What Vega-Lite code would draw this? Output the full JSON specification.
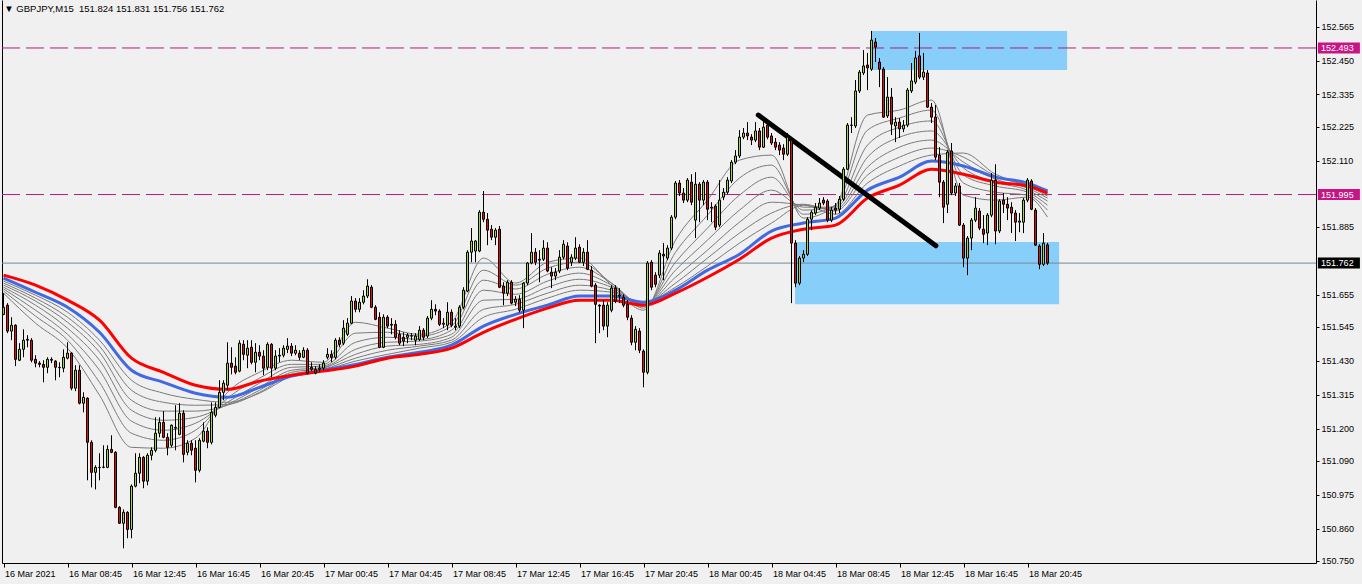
{
"$schema":"https://vega.github.io/schema/vega-lite/v6.json",
"width":1314,"height":563,
"autosize":{"type":"none"},
"padding":{"left":2,"top":0,"right":46,"bottom":21},
"background":"#f0f0f0",
"config":{"view":{"stroke":null},"font":"Liberation Sans","scale":{"continuousPadding":0}},
"resolve":{"axis":{"y":"independent"}},
"datasets":{
"candles":[
{"t":"2021-03-16T04:45","o":151.588,"h":151.660,"l":151.585,"c":151.612},
{"t":"2021-03-16T05:00","o":151.619,"h":151.626,"l":151.524,"c":151.531},
{"t":"2021-03-16T05:15","o":151.531,"h":151.578,"l":151.500,"c":151.551},
{"t":"2021-03-16T05:30","o":151.551,"h":151.554,"l":151.412,"c":151.435},
{"t":"2021-03-16T05:45","o":151.432,"h":151.490,"l":151.429,"c":151.469},
{"t":"2021-03-16T06:00","o":151.469,"h":151.537,"l":151.442,"c":151.500},
{"t":"2021-03-16T06:15","o":151.503,"h":151.517,"l":151.476,"c":151.500},
{"t":"2021-03-16T06:30","o":151.500,"h":151.507,"l":151.425,"c":151.432},
{"t":"2021-03-16T06:45","o":151.435,"h":151.449,"l":151.408,"c":151.422},
{"t":"2021-03-16T07:00","o":151.422,"h":151.429,"l":151.408,"c":151.418},
{"t":"2021-03-16T07:15","o":151.418,"h":151.432,"l":151.357,"c":151.408},
{"t":"2021-03-16T07:30","o":151.408,"h":151.442,"l":151.388,"c":151.435},
{"t":"2021-03-16T07:45","o":151.435,"h":151.442,"l":151.422,"c":151.432},
{"t":"2021-03-16T08:00","o":151.429,"h":151.432,"l":151.364,"c":151.408},
{"t":"2021-03-16T08:15","o":151.408,"h":151.425,"l":151.374,"c":151.407},
{"t":"2021-03-16T08:30","o":151.405,"h":151.469,"l":151.391,"c":151.442},
{"t":"2021-03-16T08:45","o":151.439,"h":151.493,"l":151.435,"c":151.456},
{"t":"2021-03-16T09:00","o":151.456,"h":151.459,"l":151.330,"c":151.337},
{"t":"2021-03-16T09:15","o":151.337,"h":151.415,"l":151.327,"c":151.398},
{"t":"2021-03-16T09:30","o":151.398,"h":151.415,"l":151.282,"c":151.286},
{"t":"2021-03-16T09:45","o":151.286,"h":151.323,"l":151.255,"c":151.306},
{"t":"2021-03-16T10:00","o":151.303,"h":151.306,"l":151.024,"c":151.153},
{"t":"2021-03-16T10:15","o":151.153,"h":151.160,"l":151.000,"c":151.051},
{"t":"2021-03-16T10:30","o":151.051,"h":151.075,"l":150.993,"c":151.068},
{"t":"2021-03-16T10:45","o":151.068,"h":151.116,"l":151.024,"c":151.067},
{"t":"2021-03-16T11:00","o":151.068,"h":151.143,"l":151.065,"c":151.069},
{"t":"2021-03-16T11:15","o":151.068,"h":151.143,"l":151.065,"c":151.129},
{"t":"2021-03-16T11:30","o":151.129,"h":151.177,"l":151.116,"c":151.119},
{"t":"2021-03-16T11:45","o":151.119,"h":151.123,"l":150.929,"c":150.932},
{"t":"2021-03-16T12:00","o":150.932,"h":150.936,"l":150.876,"c":150.878},
{"t":"2021-03-16T12:15","o":150.878,"h":150.925,"l":150.793,"c":150.915},
{"t":"2021-03-16T12:30","o":150.915,"h":150.919,"l":150.827,"c":150.857},
{"t":"2021-03-16T12:45","o":150.857,"h":151.010,"l":150.827,"c":151.004},
{"t":"2021-03-16T13:00","o":151.004,"h":151.116,"l":151.000,"c":151.048},
{"t":"2021-03-16T13:15","o":151.048,"h":151.116,"l":151.014,"c":151.102},
{"t":"2021-03-16T13:30","o":151.102,"h":151.106,"l":150.997,"c":151.021},
{"t":"2021-03-16T13:45","o":151.021,"h":151.116,"l":151.007,"c":151.109},
{"t":"2021-03-16T14:00","o":151.109,"h":151.136,"l":151.092,"c":151.126},
{"t":"2021-03-16T14:15","o":151.126,"h":151.238,"l":151.119,"c":151.184},
{"t":"2021-03-16T14:30","o":151.184,"h":151.238,"l":151.170,"c":151.221},
{"t":"2021-03-16T14:45","o":151.221,"h":151.259,"l":151.167,"c":151.170},
{"t":"2021-03-16T15:00","o":151.170,"h":151.184,"l":151.109,"c":151.136},
{"t":"2021-03-16T15:15","o":151.143,"h":151.214,"l":151.136,"c":151.211},
{"t":"2021-03-16T15:30","o":151.201,"h":151.279,"l":151.126,"c":151.204},
{"t":"2021-03-16T15:45","o":151.180,"h":151.286,"l":151.177,"c":151.252},
{"t":"2021-03-16T16:00","o":151.252,"h":151.262,"l":151.085,"c":151.112},
{"t":"2021-03-16T16:15","o":151.119,"h":151.160,"l":151.109,"c":151.150},
{"t":"2021-03-16T16:30","o":151.150,"h":151.160,"l":151.109,"c":151.126},
{"t":"2021-03-16T16:45","o":151.133,"h":151.160,"l":151.017,"c":151.058},
{"t":"2021-03-16T17:00","o":151.058,"h":151.167,"l":151.051,"c":151.160},
{"t":"2021-03-16T17:15","o":151.157,"h":151.221,"l":151.153,"c":151.191},
{"t":"2021-03-16T17:30","o":151.191,"h":151.204,"l":151.133,"c":151.153},
{"t":"2021-03-16T17:45","o":151.153,"h":151.289,"l":151.146,"c":151.255},
{"t":"2021-03-16T18:00","o":151.245,"h":151.289,"l":151.238,"c":151.272},
{"t":"2021-03-16T18:15","o":151.272,"h":151.364,"l":151.269,"c":151.323},
{"t":"2021-03-16T18:30","o":151.323,"h":151.364,"l":151.296,"c":151.354},
{"t":"2021-03-16T18:45","o":151.347,"h":151.493,"l":151.330,"c":151.422},
{"t":"2021-03-16T19:00","o":151.422,"h":151.476,"l":151.384,"c":151.408},
{"t":"2021-03-16T19:15","o":151.412,"h":151.442,"l":151.384,"c":151.391},
{"t":"2021-03-16T19:30","o":151.395,"h":151.500,"l":151.391,"c":151.490},
{"t":"2021-03-16T19:45","o":151.486,"h":151.500,"l":151.432,"c":151.452},
{"t":"2021-03-16T20:00","o":151.449,"h":151.500,"l":151.405,"c":151.473},
{"t":"2021-03-16T20:15","o":151.476,"h":151.500,"l":151.418,"c":151.425},
{"t":"2021-03-16T20:30","o":151.425,"h":151.490,"l":151.391,"c":151.459},
{"t":"2021-03-16T20:45","o":151.459,"h":151.483,"l":151.432,"c":151.446},
{"t":"2021-03-16T21:00","o":151.446,"h":151.466,"l":151.381,"c":151.405},
{"t":"2021-03-16T21:15","o":151.408,"h":151.493,"l":151.398,"c":151.486},
{"t":"2021-03-16T21:30","o":151.486,"h":151.490,"l":151.374,"c":151.405},
{"t":"2021-03-16T21:45","o":151.405,"h":151.466,"l":151.398,"c":151.446},
{"t":"2021-03-16T22:00","o":151.446,"h":151.473,"l":151.425,"c":151.449},
{"t":"2021-03-16T22:15","o":151.449,"h":151.483,"l":151.442,"c":151.473},
{"t":"2021-03-16T22:30","o":151.469,"h":151.507,"l":151.456,"c":151.480},
{"t":"2021-03-16T22:45","o":151.480,"h":151.490,"l":151.446,"c":151.456},
{"t":"2021-03-16T23:00","o":151.456,"h":151.483,"l":151.449,"c":151.466},
{"t":"2021-03-16T23:15","o":151.456,"h":151.466,"l":151.432,"c":151.442},
{"t":"2021-03-16T23:30","o":151.442,"h":151.476,"l":151.439,"c":151.466},
{"t":"2021-03-16T23:45","o":151.466,"h":151.473,"l":151.384,"c":151.388},
{"t":"2021-03-17T00:00","o":151.408,"h":151.425,"l":151.395,"c":151.401},
{"t":"2021-03-17T00:15","o":151.401,"h":151.412,"l":151.384,"c":151.388},
{"t":"2021-03-17T00:30","o":151.401,"h":151.418,"l":151.391,"c":151.405},
{"t":"2021-03-17T00:45","o":151.405,"h":151.432,"l":151.398,"c":151.422},
{"t":"2021-03-17T01:00","o":151.442,"h":151.473,"l":151.435,"c":151.452},
{"t":"2021-03-17T01:15","o":151.452,"h":151.466,"l":151.425,"c":151.442},
{"t":"2021-03-17T01:30","o":151.442,"h":151.507,"l":151.435,"c":151.500},
{"t":"2021-03-17T01:45","o":151.500,"h":151.510,"l":151.476,"c":151.486},
{"t":"2021-03-17T02:00","o":151.490,"h":151.568,"l":151.483,"c":151.541},
{"t":"2021-03-17T02:15","o":151.520,"h":151.575,"l":151.514,"c":151.558},
{"t":"2021-03-17T02:30","o":151.558,"h":151.650,"l":151.554,"c":151.633},
{"t":"2021-03-17T02:45","o":151.633,"h":151.643,"l":151.595,"c":151.605},
{"t":"2021-03-17T03:00","o":151.605,"h":151.643,"l":151.595,"c":151.629},
{"t":"2021-03-17T03:15","o":151.629,"h":151.670,"l":151.622,"c":151.650},
{"t":"2021-03-17T03:30","o":151.650,"h":151.707,"l":151.643,"c":151.684},
{"t":"2021-03-17T03:45","o":151.680,"h":151.687,"l":151.609,"c":151.612},
{"t":"2021-03-17T04:00","o":151.612,"h":151.619,"l":151.568,"c":151.571},
{"t":"2021-03-17T04:15","o":151.578,"h":151.595,"l":151.473,"c":151.476},
{"t":"2021-03-17T04:30","o":151.476,"h":151.588,"l":151.473,"c":151.578},
{"t":"2021-03-17T04:45","o":151.578,"h":151.585,"l":151.541,"c":151.548},
{"t":"2021-03-17T05:00","o":151.551,"h":151.575,"l":151.520,"c":151.554},
{"t":"2021-03-17T05:15","o":151.554,"h":151.568,"l":151.503,"c":151.510},
{"t":"2021-03-17T05:30","o":151.520,"h":151.534,"l":151.483,"c":151.490},
{"t":"2021-03-17T05:45","o":151.510,"h":151.527,"l":151.480,"c":151.497},
{"t":"2021-03-17T06:00","o":151.510,"h":151.524,"l":151.490,"c":151.517},
{"t":"2021-03-17T06:15","o":151.514,"h":151.524,"l":151.500,"c":151.515},
{"t":"2021-03-17T06:30","o":151.500,"h":151.524,"l":151.483,"c":151.514},
{"t":"2021-03-17T06:45","o":151.503,"h":151.548,"l":151.497,"c":151.534},
{"t":"2021-03-17T07:00","o":151.534,"h":151.541,"l":151.500,"c":151.510},
{"t":"2021-03-17T07:15","o":151.514,"h":151.582,"l":151.507,"c":151.575},
{"t":"2021-03-17T07:30","o":151.575,"h":151.636,"l":151.568,"c":151.605},
{"t":"2021-03-17T07:45","o":151.605,"h":151.622,"l":151.585,"c":151.599},
{"t":"2021-03-17T08:00","o":151.599,"h":151.605,"l":151.548,"c":151.554},
{"t":"2021-03-17T08:15","o":151.554,"h":151.575,"l":151.541,"c":151.558},
{"t":"2021-03-17T08:30","o":151.551,"h":151.629,"l":151.534,"c":151.595},
{"t":"2021-03-17T08:45","o":151.595,"h":151.605,"l":151.544,"c":151.551},
{"t":"2021-03-17T09:00","o":151.544,"h":151.575,"l":151.534,"c":151.548},
{"t":"2021-03-17T09:15","o":151.548,"h":151.619,"l":151.541,"c":151.612},
{"t":"2021-03-17T09:30","o":151.612,"h":151.680,"l":151.605,"c":151.670},
{"t":"2021-03-17T09:45","o":151.667,"h":151.806,"l":151.663,"c":151.799},
{"t":"2021-03-17T10:00","o":151.799,"h":151.881,"l":151.765,"c":151.837},
{"t":"2021-03-17T10:15","o":151.803,"h":151.840,"l":151.765,"c":151.837},
{"t":"2021-03-17T10:30","o":151.803,"h":151.942,"l":151.799,"c":151.935},
{"t":"2021-03-17T10:45","o":151.935,"h":152.007,"l":151.901,"c":151.911},
{"t":"2021-03-17T11:00","o":151.911,"h":151.932,"l":151.823,"c":151.874},
{"t":"2021-03-17T11:15","o":151.877,"h":151.891,"l":151.840,"c":151.850},
{"t":"2021-03-17T11:30","o":151.850,"h":151.881,"l":151.823,"c":151.874},
{"t":"2021-03-17T11:45","o":151.877,"h":151.888,"l":151.677,"c":151.680},
{"t":"2021-03-17T12:00","o":151.684,"h":151.697,"l":151.619,"c":151.660},
{"t":"2021-03-17T12:15","o":151.660,"h":151.704,"l":151.650,"c":151.697},
{"t":"2021-03-17T12:30","o":151.697,"h":151.704,"l":151.622,"c":151.626},
{"t":"2021-03-17T12:45","o":151.629,"h":151.650,"l":151.616,"c":151.639},
{"t":"2021-03-17T13:00","o":151.639,"h":151.653,"l":151.595,"c":151.602},
{"t":"2021-03-17T13:15","o":151.602,"h":151.697,"l":151.541,"c":151.694},
{"t":"2021-03-17T13:30","o":151.694,"h":151.765,"l":151.687,"c":151.762},
{"t":"2021-03-17T13:45","o":151.762,"h":151.864,"l":151.758,"c":151.799},
{"t":"2021-03-17T14:00","o":151.799,"h":151.813,"l":151.755,"c":151.765},
{"t":"2021-03-17T14:15","o":151.772,"h":151.806,"l":151.697,"c":151.775},
{"t":"2021-03-17T14:30","o":151.775,"h":151.840,"l":151.769,"c":151.813},
{"t":"2021-03-17T14:45","o":151.813,"h":151.833,"l":151.731,"c":151.735},
{"t":"2021-03-17T15:00","o":151.731,"h":151.748,"l":151.677,"c":151.718},
{"t":"2021-03-17T15:15","o":151.718,"h":151.745,"l":151.704,"c":151.731},
{"t":"2021-03-17T15:30","o":151.735,"h":151.806,"l":151.728,"c":151.782},
{"t":"2021-03-17T15:45","o":151.782,"h":151.840,"l":151.775,"c":151.826},
{"t":"2021-03-17T16:00","o":151.820,"h":151.833,"l":151.738,"c":151.745},
{"t":"2021-03-17T16:15","o":151.765,"h":151.792,"l":151.752,"c":151.782},
{"t":"2021-03-17T16:30","o":151.779,"h":151.850,"l":151.772,"c":151.813},
{"t":"2021-03-17T16:45","o":151.816,"h":151.826,"l":151.762,"c":151.765},
{"t":"2021-03-17T17:00","o":151.765,"h":151.813,"l":151.752,"c":151.799},
{"t":"2021-03-17T17:15","o":151.799,"h":151.840,"l":151.738,"c":151.741},
{"t":"2021-03-17T17:30","o":151.738,"h":151.752,"l":151.680,"c":151.684},
{"t":"2021-03-17T17:45","o":151.687,"h":151.694,"l":151.490,"c":151.622},
{"t":"2021-03-17T18:00","o":151.619,"h":151.622,"l":151.524,"c":151.616},
{"t":"2021-03-17T18:15","o":151.619,"h":151.636,"l":151.534,"c":151.548},
{"t":"2021-03-17T18:30","o":151.548,"h":151.629,"l":151.510,"c":151.619},
{"t":"2021-03-17T18:45","o":151.602,"h":151.687,"l":151.595,"c":151.677},
{"t":"2021-03-17T19:00","o":151.677,"h":151.687,"l":151.626,"c":151.633},
{"t":"2021-03-17T19:15","o":151.650,"h":151.677,"l":151.626,"c":151.653},
{"t":"2021-03-17T19:30","o":151.646,"h":151.656,"l":151.612,"c":151.619},
{"t":"2021-03-17T19:45","o":151.622,"h":151.636,"l":151.568,"c":151.578},
{"t":"2021-03-17T20:00","o":151.575,"h":151.585,"l":151.483,"c":151.493},
{"t":"2021-03-17T20:15","o":151.493,"h":151.548,"l":151.466,"c":151.537},
{"t":"2021-03-17T20:30","o":151.531,"h":151.541,"l":151.456,"c":151.466},
{"t":"2021-03-17T20:45","o":151.463,"h":151.469,"l":151.340,"c":151.391},
{"t":"2021-03-17T21:00","o":151.391,"h":151.769,"l":151.384,"c":151.762},
{"t":"2021-03-17T21:15","o":151.765,"h":151.772,"l":151.670,"c":151.680},
{"t":"2021-03-17T21:30","o":151.721,"h":151.731,"l":151.680,"c":151.690},
{"t":"2021-03-17T21:45","o":151.721,"h":151.806,"l":151.711,"c":151.796},
{"t":"2021-03-17T22:00","o":151.792,"h":151.830,"l":151.704,"c":151.786},
{"t":"2021-03-17T22:15","o":151.779,"h":151.823,"l":151.772,"c":151.813},
{"t":"2021-03-17T22:30","o":151.813,"h":151.925,"l":151.806,"c":151.918},
{"t":"2021-03-17T22:45","o":151.918,"h":152.041,"l":151.911,"c":152.034},
{"t":"2021-03-17T23:00","o":152.034,"h":152.044,"l":151.990,"c":152.000},
{"t":"2021-03-17T23:15","o":152.000,"h":152.017,"l":151.966,"c":151.976},
{"t":"2021-03-17T23:30","o":151.976,"h":152.051,"l":151.969,"c":152.044},
{"t":"2021-03-17T23:45","o":152.037,"h":152.064,"l":151.959,"c":151.969},
{"t":"2021-03-18T00:00","o":151.908,"h":152.071,"l":151.847,"c":152.030},
{"t":"2021-03-18T00:15","o":152.030,"h":152.037,"l":151.901,"c":151.976},
{"t":"2021-03-18T00:30","o":151.976,"h":152.044,"l":151.959,"c":152.037},
{"t":"2021-03-18T00:45","o":152.037,"h":152.044,"l":151.908,"c":151.945},
{"t":"2021-03-18T01:00","o":151.949,"h":151.969,"l":151.901,"c":151.952},
{"t":"2021-03-18T01:15","o":151.956,"h":151.962,"l":151.874,"c":151.884},
{"t":"2021-03-18T01:30","o":151.891,"h":152.044,"l":151.884,"c":151.976},
{"t":"2021-03-18T01:45","o":151.986,"h":152.017,"l":151.976,"c":152.003},
{"t":"2021-03-18T02:00","o":152.003,"h":152.054,"l":151.996,"c":152.044},
{"t":"2021-03-18T02:15","o":152.041,"h":152.112,"l":152.034,"c":152.105},
{"t":"2021-03-18T02:30","o":152.105,"h":152.146,"l":152.098,"c":152.126},
{"t":"2021-03-18T02:45","o":152.126,"h":152.214,"l":152.119,"c":152.190},
{"t":"2021-03-18T03:00","o":152.190,"h":152.221,"l":152.183,"c":152.204},
{"t":"2021-03-18T03:15","o":152.204,"h":152.241,"l":152.180,"c":152.194},
{"t":"2021-03-18T03:30","o":152.190,"h":152.200,"l":152.163,"c":152.180},
{"t":"2021-03-18T03:45","o":152.180,"h":152.241,"l":152.173,"c":152.211},
{"t":"2021-03-18T04:00","o":152.211,"h":152.221,"l":152.146,"c":152.156},
{"t":"2021-03-18T04:15","o":152.156,"h":152.255,"l":152.153,"c":152.224},
{"t":"2021-03-18T04:30","o":152.231,"h":152.241,"l":152.183,"c":152.190},
{"t":"2021-03-18T04:45","o":152.194,"h":152.204,"l":152.163,"c":152.170},
{"t":"2021-03-18T05:00","o":152.173,"h":152.187,"l":152.146,"c":152.156},
{"t":"2021-03-18T05:15","o":152.163,"h":152.173,"l":152.129,"c":152.146},
{"t":"2021-03-18T05:30","o":152.153,"h":152.166,"l":152.112,"c":152.132},
{"t":"2021-03-18T05:45","o":152.132,"h":152.204,"l":152.126,"c":152.190},
{"t":"2021-03-18T06:00","o":152.180,"h":152.190,"l":151.626,"c":151.830},
{"t":"2021-03-18T06:15","o":151.830,"h":151.840,"l":151.680,"c":151.694},
{"t":"2021-03-18T06:30","o":151.694,"h":151.786,"l":151.687,"c":151.779},
{"t":"2021-03-18T06:45","o":151.779,"h":151.806,"l":151.765,"c":151.792},
{"t":"2021-03-18T07:00","o":151.792,"h":151.918,"l":151.786,"c":151.911},
{"t":"2021-03-18T07:15","o":151.911,"h":151.942,"l":151.874,"c":151.935},
{"t":"2021-03-18T07:30","o":151.932,"h":151.966,"l":151.925,"c":151.952},
{"t":"2021-03-18T07:45","o":151.949,"h":151.983,"l":151.942,"c":151.966},
{"t":"2021-03-18T08:00","o":151.976,"h":151.986,"l":151.959,"c":151.966},
{"t":"2021-03-18T08:15","o":151.973,"h":151.979,"l":151.901,"c":151.908},
{"t":"2021-03-18T08:30","o":151.908,"h":151.952,"l":151.901,"c":151.942},
{"t":"2021-03-18T08:45","o":151.949,"h":151.966,"l":151.928,"c":151.942},
{"t":"2021-03-18T09:00","o":151.945,"h":151.990,"l":151.932,"c":151.979},
{"t":"2021-03-18T09:15","o":151.979,"h":152.088,"l":151.973,"c":152.081},
{"t":"2021-03-18T09:30","o":152.081,"h":152.238,"l":152.078,"c":152.231},
{"t":"2021-03-18T09:45","o":152.231,"h":152.258,"l":152.204,"c":152.230},
{"t":"2021-03-18T10:00","o":152.228,"h":152.384,"l":152.221,"c":152.347},
{"t":"2021-03-18T10:15","o":152.347,"h":152.418,"l":152.340,"c":152.411},
{"t":"2021-03-18T10:30","o":152.408,"h":152.486,"l":152.401,"c":152.432},
{"t":"2021-03-18T10:45","o":152.435,"h":152.476,"l":152.350,"c":152.425},
{"t":"2021-03-18T11:00","o":152.421,"h":152.551,"l":152.415,"c":152.520},
{"t":"2021-03-18T11:15","o":152.513,"h":152.527,"l":152.445,"c":152.496},
{"t":"2021-03-18T11:30","o":152.445,"h":152.459,"l":152.360,"c":152.421},
{"t":"2021-03-18T11:45","o":152.421,"h":152.428,"l":152.255,"c":152.258},
{"t":"2021-03-18T12:00","o":152.262,"h":152.394,"l":152.255,"c":152.326},
{"t":"2021-03-18T12:15","o":152.326,"h":152.357,"l":152.197,"c":152.234},
{"t":"2021-03-18T12:30","o":152.228,"h":152.258,"l":152.173,"c":152.241},
{"t":"2021-03-18T12:45","o":152.241,"h":152.255,"l":152.187,"c":152.218},
{"t":"2021-03-18T13:00","o":152.218,"h":152.248,"l":152.207,"c":152.231},
{"t":"2021-03-18T13:15","o":152.231,"h":152.357,"l":152.224,"c":152.350},
{"t":"2021-03-18T13:30","o":152.347,"h":152.442,"l":152.340,"c":152.381},
{"t":"2021-03-18T13:45","o":152.377,"h":152.483,"l":152.370,"c":152.459},
{"t":"2021-03-18T14:00","o":152.466,"h":152.544,"l":152.387,"c":152.394},
{"t":"2021-03-18T14:15","o":152.394,"h":152.476,"l":152.384,"c":152.411},
{"t":"2021-03-18T14:30","o":152.408,"h":152.418,"l":152.289,"c":152.292},
{"t":"2021-03-18T14:45","o":152.292,"h":152.306,"l":152.238,"c":152.258},
{"t":"2021-03-18T15:00","o":152.258,"h":152.299,"l":152.112,"c":152.122},
{"t":"2021-03-18T15:15","o":152.129,"h":152.156,"l":151.986,"c":152.037},
{"t":"2021-03-18T15:30","o":152.037,"h":152.044,"l":151.898,"c":151.952},
{"t":"2021-03-18T15:45","o":151.962,"h":152.146,"l":151.932,"c":152.139},
{"t":"2021-03-18T16:00","o":152.143,"h":152.170,"l":151.993,"c":152.000},
{"t":"2021-03-18T16:15","o":152.000,"h":152.034,"l":151.990,"c":152.024},
{"t":"2021-03-18T16:30","o":152.024,"h":152.034,"l":151.888,"c":151.891},
{"t":"2021-03-18T16:45","o":151.891,"h":151.898,"l":151.748,"c":151.779},
{"t":"2021-03-18T17:00","o":151.779,"h":151.854,"l":151.721,"c":151.847},
{"t":"2021-03-18T17:15","o":151.847,"h":151.915,"l":151.806,"c":151.908},
{"t":"2021-03-18T17:30","o":151.908,"h":151.986,"l":151.901,"c":151.949},
{"t":"2021-03-18T17:45","o":151.939,"h":151.949,"l":151.874,"c":151.881},
{"t":"2021-03-18T18:00","o":151.877,"h":151.925,"l":151.830,"c":151.860},
{"t":"2021-03-18T18:15","o":151.864,"h":151.932,"l":151.823,"c":151.925},
{"t":"2021-03-18T18:30","o":151.925,"h":152.068,"l":151.918,"c":152.044},
{"t":"2021-03-18T18:45","o":152.044,"h":152.098,"l":151.826,"c":151.871},
{"t":"2021-03-18T19:00","o":151.871,"h":151.979,"l":151.864,"c":151.973},
{"t":"2021-03-18T19:15","o":151.976,"h":152.000,"l":151.932,"c":151.962},
{"t":"2021-03-18T19:30","o":151.962,"h":151.986,"l":151.908,"c":151.949},
{"t":"2021-03-18T19:45","o":151.952,"h":151.969,"l":151.864,"c":151.932},
{"t":"2021-03-18T20:00","o":151.932,"h":151.942,"l":151.837,"c":151.901},
{"t":"2021-03-18T20:15","o":151.901,"h":151.932,"l":151.867,"c":151.905},
{"t":"2021-03-18T20:30","o":151.901,"h":151.983,"l":151.864,"c":151.976},
{"t":"2021-03-18T20:45","o":151.976,"h":152.051,"l":151.969,"c":152.044},
{"t":"2021-03-18T21:00","o":152.041,"h":152.047,"l":151.942,"c":151.945},
{"t":"2021-03-18T21:15","o":151.942,"h":151.949,"l":151.820,"c":151.823},
{"t":"2021-03-18T21:30","o":151.820,"h":151.826,"l":151.741,"c":151.758},
{"t":"2021-03-18T21:45","o":151.758,"h":151.864,"l":151.752,"c":151.830},
{"t":"2021-03-18T22:00","o":151.824,"h":151.831,"l":151.756,"c":151.762}
],
"ma":[
{"t":"2021-03-16T04:45","r":151.721,"b":151.711,"g1":151.660,"g2":151.667,"g3":151.674,"g4":151.680,"g5":151.687,"g6":151.694,"g7":151.701},
{"t":"2021-03-16T06:45","r":151.687,"b":151.663,"g1":151.558,"g2":151.582,"g3":151.602,"g4":151.619,"g5":151.633,"g6":151.643,"g7":151.653},
{"t":"2021-03-16T08:45","r":151.636,"b":151.612,"g1":151.473,"g2":151.500,"g3":151.520,"g4":151.541,"g5":151.561,"g6":151.578,"g7":151.595},
{"t":"2021-03-16T10:45","r":151.568,"b":151.527,"g1":151.313,"g2":151.357,"g3":151.398,"g4":151.432,"g5":151.459,"g6":151.480,"g7":151.500},
{"t":"2021-03-16T12:45","r":151.439,"b":151.398,"g1":151.136,"g2":151.184,"g3":151.225,"g4":151.262,"g5":151.296,"g6":151.330,"g7":151.364},
{"t":"2021-03-16T14:45","r":151.391,"b":151.357,"g1":151.133,"g2":151.160,"g3":151.194,"g4":151.228,"g5":151.259,"g6":151.289,"g7":151.320},
{"t":"2021-03-16T16:45","r":151.347,"b":151.320,"g1":151.167,"g2":151.194,"g3":151.218,"g4":151.238,"g5":151.259,"g6":151.279,"g7":151.299},
{"t":"2021-03-16T18:45","r":151.333,"b":151.306,"g1":151.323,"g2":151.303,"g3":151.289,"g4":151.282,"g5":151.279,"g6":151.282,"g7":151.289},
{"t":"2021-03-16T20:45","r":151.361,"b":151.340,"g1":151.391,"g2":151.371,"g3":151.354,"g4":151.340,"g5":151.330,"g6":151.323,"g7":151.320},
{"t":"2021-03-16T22:45","r":151.381,"b":151.378,"g1":151.432,"g2":151.418,"g3":151.408,"g4":151.398,"g5":151.391,"g6":151.384,"g7":151.378},
{"t":"2021-03-17T00:45","r":151.395,"b":151.398,"g1":151.425,"g2":151.418,"g3":151.412,"g4":151.408,"g5":151.405,"g6":151.401,"g7":151.398},
{"t":"2021-03-17T02:45","r":151.412,"b":151.418,"g1":151.561,"g2":151.524,"g3":151.493,"g4":151.469,"g5":151.452,"g6":151.439,"g7":151.429},
{"t":"2021-03-17T04:45","r":151.439,"b":151.442,"g1":151.541,"g2":151.527,"g3":151.510,"g4":151.493,"g5":151.480,"g6":151.466,"g7":151.452},
{"t":"2021-03-17T06:45","r":151.452,"b":151.459,"g1":151.520,"g2":151.514,"g3":151.503,"g4":151.497,"g5":151.486,"g6":151.480,"g7":151.473},
{"t":"2021-03-17T08:45","r":151.473,"b":151.483,"g1":151.561,"g2":151.548,"g3":151.534,"g4":151.520,"g5":151.510,"g6":151.500,"g7":151.493},
{"t":"2021-03-17T10:45","r":151.527,"b":151.548,"g1":151.779,"g2":151.738,"g3":151.704,"g4":151.670,"g5":151.636,"g6":151.605,"g7":151.578},
{"t":"2021-03-17T12:45","r":151.571,"b":151.588,"g1":151.694,"g2":151.687,"g3":151.674,"g4":151.656,"g5":151.639,"g6":151.622,"g7":151.605},
{"t":"2021-03-17T14:45","r":151.609,"b":151.619,"g1":151.765,"g2":151.745,"g3":151.724,"g4":151.701,"g5":151.680,"g6":151.660,"g7":151.643},
{"t":"2021-03-17T16:45","r":151.636,"b":151.650,"g1":151.779,"g2":151.765,"g3":151.748,"g4":151.728,"g5":151.707,"g6":151.687,"g7":151.670},
{"t":"2021-03-17T18:45","r":151.636,"b":151.650,"g1":151.687,"g2":151.694,"g3":151.694,"g4":151.687,"g5":151.680,"g6":151.670,"g7":151.663},
{"t":"2021-03-17T20:45","r":151.619,"b":151.629,"g1":151.602,"g2":151.609,"g3":151.616,"g4":151.619,"g5":151.622,"g6":151.626,"g7":151.629},
{"t":"2021-03-17T22:45","r":151.660,"b":151.670,"g1":151.840,"g2":151.799,"g3":151.765,"g4":151.738,"g5":151.714,"g6":151.694,"g7":151.680},
{"t":"2021-03-18T00:45","r":151.714,"b":151.738,"g1":151.976,"g2":151.925,"g3":151.881,"g4":151.840,"g5":151.806,"g6":151.779,"g7":151.752},
{"t":"2021-03-18T02:45","r":151.775,"b":151.792,"g1":152.112,"g2":152.051,"g3":151.993,"g4":151.942,"g5":151.901,"g6":151.864,"g7":151.830},
{"t":"2021-03-18T04:45","r":151.847,"b":151.871,"g1":152.129,"g2":152.095,"g3":152.054,"g4":152.010,"g5":151.969,"g6":151.932,"g7":151.898},
{"t":"2021-03-18T06:45","r":151.877,"b":151.898,"g1":151.915,"g2":151.928,"g3":151.942,"g4":151.952,"g5":151.959,"g6":151.962,"g7":151.959},
{"t":"2021-03-18T08:45","r":151.891,"b":151.915,"g1":151.959,"g2":151.959,"g3":151.956,"g4":151.952,"g5":151.945,"g6":151.939,"g7":151.928},
{"t":"2021-03-18T10:45","r":151.983,"b":152.010,"g1":152.265,"g2":152.214,"g3":152.163,"g4":152.122,"g5":152.088,"g6":152.061,"g7":152.034},
{"t":"2021-03-18T12:45","r":152.027,"b":152.054,"g1":152.282,"g2":152.255,"g3":152.224,"g4":152.190,"g5":152.156,"g6":152.122,"g7":152.092},
{"t":"2021-03-18T14:45","r":152.081,"b":152.109,"g1":152.316,"g2":152.282,"g3":152.245,"g4":152.211,"g5":152.180,"g6":152.153,"g7":152.129},
{"t":"2021-03-18T16:45","r":152.064,"b":152.092,"g1":151.993,"g2":152.034,"g3":152.061,"g4":152.085,"g5":152.105,"g6":152.122,"g7":152.136},
{"t":"2021-03-18T18:45","r":152.037,"b":152.054,"g1":151.976,"g2":152.003,"g3":152.024,"g4":152.037,"g5":152.047,"g6":152.058,"g7":152.064},
{"t":"2021-03-18T20:45","r":152.024,"b":152.034,"g1":151.986,"g2":151.993,"g3":152.003,"g4":152.010,"g5":152.017,"g6":152.024,"g7":152.027},
{"t":"2021-03-18T22:00","r":152.000,"b":152.007,"g1":151.918,"g2":151.942,"g3":151.959,"g4":151.973,"g5":151.983,"g6":151.990,"g7":151.996}
],
"levels":[
{"p":152.493,"kind":"dash"},
{"p":151.995,"kind":"dash"},
{"p":151.762,"kind":"price"}
],
"zones":[
{"t1":"2021-03-18T11:01:54","t2":"2021-03-18T23:13:30","p1":152.551,"p2":152.418},
{"t1":"2021-03-18T06:13:30","t2":"2021-03-18T22:43:30","p1":151.834,"p2":151.622}
],
"trend":[
{"t":"2021-03-18T03:55:30","p":152.265},
{"t":"2021-03-18T15:01:30","p":151.821}
],
"header":[
{"label":"▼ GBPJPY,M15\u00a0 151.824 151.831 151.756 151.762"}
]
},
"layer":[
{"data":{"name":"zones"},"mark":{"type":"rect","fill":"#87cefa"},
 "encoding":{
  "x":{"field":"t1","type":"temporal","title":null,
   "scale":{"domain":[{"year":2021,"month":3,"date":16,"hours":4,"minutes":39,"seconds":22,"milliseconds":500},{"year":2021,"month":3,"date":19,"hours":14,"minutes":46,"seconds":52,"milliseconds":500}],"padding":0},
   "axis":{"values":[
    {"year":2021,"month":3,"date":16,"hours":4,"minutes":45},
    {"year":2021,"month":3,"date":16,"hours":8,"minutes":45},
    {"year":2021,"month":3,"date":16,"hours":12,"minutes":45},
    {"year":2021,"month":3,"date":16,"hours":16,"minutes":45},
    {"year":2021,"month":3,"date":16,"hours":20,"minutes":45},
    {"year":2021,"month":3,"date":17,"hours":0,"minutes":45},
    {"year":2021,"month":3,"date":17,"hours":4,"minutes":45},
    {"year":2021,"month":3,"date":17,"hours":8,"minutes":45},
    {"year":2021,"month":3,"date":17,"hours":12,"minutes":45},
    {"year":2021,"month":3,"date":17,"hours":16,"minutes":45},
    {"year":2021,"month":3,"date":17,"hours":20,"minutes":45},
    {"year":2021,"month":3,"date":18,"hours":0,"minutes":45},
    {"year":2021,"month":3,"date":18,"hours":4,"minutes":45},
    {"year":2021,"month":3,"date":18,"hours":8,"minutes":45},
    {"year":2021,"month":3,"date":18,"hours":12,"minutes":45},
    {"year":2021,"month":3,"date":18,"hours":16,"minutes":45},
    {"year":2021,"month":3,"date":18,"hours":20,"minutes":45}],
    "labelExpr":"datum.index == 0 ? '16 Mar 2021' : timeFormat(datum.value, '%d %b %H:%M')",
    "title":null,"grid":false,"tickSize":4,"tickColor":"#000","domainColor":"#000",
    "labelAlign":"left","labelBaseline":"top","labelPadding":2,"labelOffset":1,
    "labelFlush":false,"labelOverlap":false,"labelColor":"#000","labelFont":"Liberation Sans","labelFontSize":9}},
  "x2":{"field":"t2"},
  "y":{"field":"p1","type":"quantitative","title":null,
   "scale":{"domain":[150.743,152.656],"nice":false,"zero":false},
   "axis":{"orient":"left","labels":false,"ticks":false,"grid":false,"domain":true,"domainColor":"#000","title":null}},
  "y2":{"field":"p2"}}},
{"data":{"name":"levels"},"transform":[{"filter":"datum.kind == 'dash'"}],
 "mark":{"type":"rule","stroke":"#a8207e","strokeWidth":1,"strokeDash":[18,6]},
 "encoding":{"y":{"field":"p","type":"quantitative","title":null,"axis":null,"scale":{"domain":[150.743,152.656],"nice":false,"zero":false}}}},
{"data":{"name":"levels"},"transform":[{"filter":"datum.kind == 'price'"}],
 "mark":{"type":"rule","stroke":"#778899","strokeWidth":1},
 "encoding":{"y":{"field":"p","type":"quantitative","title":null,"axis":null,"scale":{"domain":[150.743,152.656],"nice":false,"zero":false}}}},
{"data":{"name":"ma"},"transform":[{"fold":["g1","g2","g3","g4","g5","g6","g7"],"as":["k","v"]}],
 "mark":{"type":"line","stroke":"#7a7a7a","strokeWidth":1,"interpolate":"monotone"},
 "encoding":{
  "x":{"field":"t","type":"temporal","title":null,"scale":{"domain":[{"year":2021,"month":3,"date":16,"hours":4,"minutes":39,"seconds":22,"milliseconds":500},{"year":2021,"month":3,"date":19,"hours":14,"minutes":46,"seconds":52,"milliseconds":500}],"padding":0}},
  "y":{"field":"v","type":"quantitative","title":null,"axis":null,"scale":{"domain":[150.743,152.656],"nice":false,"zero":false}},
  "detail":{"field":"k"}}},
{"data":{"name":"ma"},
 "mark":{"type":"line","stroke":"#4169e1","strokeWidth":3,"interpolate":"monotone"},
 "encoding":{
  "x":{"field":"t","type":"temporal","title":null,"scale":{"domain":[{"year":2021,"month":3,"date":16,"hours":4,"minutes":39,"seconds":22,"milliseconds":500},{"year":2021,"month":3,"date":19,"hours":14,"minutes":46,"seconds":52,"milliseconds":500}],"padding":0}},
  "y":{"field":"b","type":"quantitative","title":null,"axis":null,"scale":{"domain":[150.743,152.656],"nice":false,"zero":false}}}},
{"data":{"name":"ma"},
 "mark":{"type":"line","stroke":"#ff0000","strokeWidth":3,"interpolate":"monotone"},
 "encoding":{
  "x":{"field":"t","type":"temporal","title":null,"scale":{"domain":[{"year":2021,"month":3,"date":16,"hours":4,"minutes":39,"seconds":22,"milliseconds":500},{"year":2021,"month":3,"date":19,"hours":14,"minutes":46,"seconds":52,"milliseconds":500}],"padding":0}},
  "y":{"field":"r","type":"quantitative","title":null,"axis":null,"scale":{"domain":[150.743,152.656],"nice":false,"zero":false}}}},
{"data":{"name":"trend"},
 "mark":{"type":"line","stroke":"#000","strokeWidth":5,"strokeCap":"round"},
 "encoding":{
  "x":{"field":"t","type":"temporal","title":null,"scale":{"domain":[{"year":2021,"month":3,"date":16,"hours":4,"minutes":39,"seconds":22,"milliseconds":500},{"year":2021,"month":3,"date":19,"hours":14,"minutes":46,"seconds":52,"milliseconds":500}],"padding":0}},
  "y":{"field":"p","type":"quantitative","title":null,"axis":null,"scale":{"domain":[150.743,152.656],"nice":false,"zero":false}}}},
{"data":{"name":"candles"},
 "mark":{"type":"rule","stroke":"#000","strokeWidth":1},
 "encoding":{
  "x":{"field":"t","type":"temporal","title":null,"scale":{"domain":[{"year":2021,"month":3,"date":16,"hours":4,"minutes":39,"seconds":22,"milliseconds":500},{"year":2021,"month":3,"date":19,"hours":14,"minutes":46,"seconds":52,"milliseconds":500}],"padding":0}},
  "y":{"field":"l","type":"quantitative","title":null,"axis":null,"scale":{"domain":[150.743,152.656],"nice":false,"zero":false}},
  "y2":{"field":"h"}}},
{"data":{"name":"candles"},
 "mark":{"type":"bar","width":2,"stroke":"#000","strokeWidth":1},
 "encoding":{
  "x":{"field":"t","type":"temporal","title":null,"scale":{"domain":[{"year":2021,"month":3,"date":16,"hours":4,"minutes":39,"seconds":22,"milliseconds":500},{"year":2021,"month":3,"date":19,"hours":14,"minutes":46,"seconds":52,"milliseconds":500}],"padding":0}},
  "y":{"field":"o","type":"quantitative","title":null,"scale":{"domain":[150.743,152.656],"nice":false,"zero":false},
   "axis":{"orient":"right","values":[152.565,152.45,152.335,152.225,152.11,151.885,151.655,151.545,151.43,151.315,151.2,151.09,150.975,150.86,150.75],
    "format":".3f","grid":false,"tickSize":3,"tickColor":"#000","domainColor":"#000","labelPadding":2,
    "labelAlign":"left","labelBaseline":"middle","labelFlush":false,"labelOverlap":false,
    "labelColor":"#000","labelFont":"Liberation Sans","labelFontSize":9,"title":null}},
  "y2":{"field":"c"},
  "fill":{"condition":{"test":"datum.c >= datum.o","value":"#a2d633"},"value":"#e01010"}}},
{"data":{"name":"levels"},
 "mark":{"type":"rule","strokeWidth":11,"strokeCap":"butt"},
 "encoding":{
  "x":{"datum":{"year":2021,"month":3,"date":19,"hours":14,"minutes":54},"type":"temporal","scale":{"domain":[{"year":2021,"month":3,"date":16,"hours":4,"minutes":39,"seconds":22,"milliseconds":500},{"year":2021,"month":3,"date":19,"hours":14,"minutes":46,"seconds":52,"milliseconds":500}],"padding":0}},
  "x2":{"datum":{"year":2021,"month":3,"date":19,"hours":17,"minutes":31,"seconds":30}},
  "y":{"field":"p","type":"quantitative","title":null,"axis":null,"scale":{"domain":[150.743,152.656],"nice":false,"zero":false}},
  "stroke":{"condition":{"test":"datum.kind == 'dash'","value":"#c71585"},"value":"#000000"}}},
{"data":{"name":"levels"},
 "mark":{"type":"text","align":"left","baseline":"middle","fill":"#ffffff","font":"Liberation Sans","fontSize":9},
 "encoding":{
  "x":{"datum":{"year":2021,"month":3,"date":19,"hours":15,"minutes":6},"type":"temporal","scale":{"domain":[{"year":2021,"month":3,"date":16,"hours":4,"minutes":39,"seconds":22,"milliseconds":500},{"year":2021,"month":3,"date":19,"hours":14,"minutes":46,"seconds":52,"milliseconds":500}],"padding":0}},
  "y":{"field":"p","type":"quantitative","title":null,"axis":null,"scale":{"domain":[150.743,152.656],"nice":false,"zero":false}},
  "text":{"field":"p","type":"quantitative","format":".3f"}}},
{"data":{"name":"header"},
 "mark":{"type":"text","align":"left","baseline":"middle","fill":"#000000","font":"Liberation Sans","fontSize":9.5},
 "encoding":{
  "x":{"datum":{"year":2021,"month":3,"date":16,"hours":4,"minutes":48},"type":"temporal","scale":{"domain":[{"year":2021,"month":3,"date":16,"hours":4,"minutes":39,"seconds":22,"milliseconds":500},{"year":2021,"month":3,"date":19,"hours":14,"minutes":46,"seconds":52,"milliseconds":500}],"padding":0}},
  "y":{"datum":152.625,"type":"quantitative","axis":null,"scale":{"domain":[150.743,152.656],"nice":false,"zero":false}},
  "text":{"field":"label"}}}
]
}
